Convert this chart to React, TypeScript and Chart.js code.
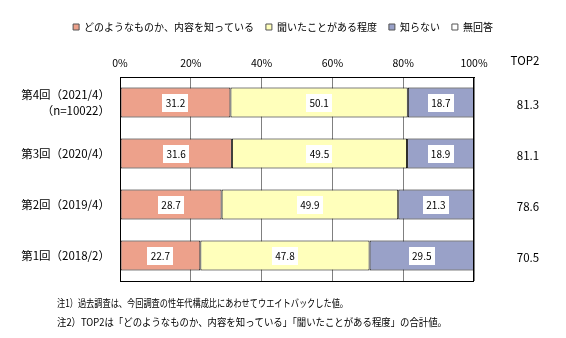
import React, { useEffect, useRef } from "react";
import { Chart, registerables } from "chart.js";

Chart.register(...registerables);

const categories: (string | string[])[] = [
  ["第4回（2021/4）", "（n=10022）"],
  "第3回（2020/4）",
  "第2回（2019/4）",
  "第1回（2018/2）",
];
const seriesNames = ["どのようなものか、内容を知っている", "聞いたことがある程度", "知らない", "無回答"];
const knowContent = [31.2, 31.6, 28.7, 22.7];
const heardOf = [50.1, 49.5, 49.9, 47.8];
const dontKnow = [18.7, 18.9, 21.3, 29.5];
const noAnswer = [0, 0, 0.1, 0];
const top2 = ["81.3", "81.1", "78.6", "70.5"];
const xTicks = [0, 20, 40, 60, 80, 100];
const notes = [
  "注1）過去調査は、今回調査の性年代構成比にあわせてウエイトバックした値。",
  "注2）TOP2は「どのようなものか、内容を知っている」「聞いたことがある程度」の合計値。",
];

const FONT = "'Noto Sans CJK JP', 'Noto Sans', sans-serif";
const COLORS = ["#EDA18B", "#FFFFBB", "#99A1C8", "#FFFFFF"];

const overlayPlugin = {
  id: "overlay",
  afterDatasetsDraw(chart: any) {
    const { ctx, chartArea } = chart;
    ctx.save();
    // frame
    ctx.strokeStyle = "#000";
    ctx.lineWidth = 1;
    ctx.strokeRect(
      Math.round(chartArea.left) + 0.5,
      Math.round(chartArea.top) + 0.5,
      Math.round(chartArea.right - chartArea.left) - 1,
      Math.round(chartArea.bottom - chartArea.top)
    );
    // value labels
    ctx.font = `10px ${FONT}`;
    ctx.textAlign = "center";
    ctx.textBaseline = "middle";
    for (let d = 0; d < 3; d++) {
      const meta = chart.getDatasetMeta(d);
      const data = chart.data.datasets[d].data as number[];
      meta.data.forEach((bar: any, i: number) => {
        const cx = (bar.x + bar.base) / 2;
        const cy = bar.y;
        ctx.fillStyle = "#fff";
        ctx.fillRect(Math.round(cx - 13), Math.round(cy - 9), 26, 18);
        ctx.fillStyle = "#000";
        ctx.fillText(data[i].toFixed(1), cx, cy + 0.5);
      });
    }
    // TOP2 column
    const yScale = chart.scales.y;
    ctx.font = `11.5px ${FONT}`;
    ctx.fillStyle = "#000";
    ctx.fillText("TOP2", 525, 61);
    top2.forEach((v, i) => {
      ctx.fillText(v, 528, yScale.getPixelForValue(i) + 2);
    });
    // notes
    ctx.font = `10.5px ${FONT}`;
    ctx.textAlign = "left";
    ctx.fillText(notes[0], 57, 303, 291);
    ctx.fillText(notes[1], 57, 322, 390);
    ctx.restore();
  },
};

export default function App() {
  const ref = useRef<HTMLCanvasElement | null>(null);
  useEffect(() => {
    if (!ref.current) return;
    const series = [knowContent, heardOf, dontKnow, noAnswer];
    const chart = new Chart(ref.current, {
      type: "bar",
      data: {
        labels: categories,
        datasets: series.map((s, i) => ({
          label: seriesNames[i],
          data: s,
          backgroundColor: COLORS[i],
          borderColor: "#000",
          borderWidth: i === 3 ? 0 : 1,
          borderSkipped: false,
          barPercentage: 1,
          categoryPercentage: 30 / 51,
        })),
      },
      options: {
        indexAxis: "y",
        responsive: false,
        animation: false,
        layout: { padding: { top: 10, right: 0, bottom: 57, left: 0 } },
        plugins: {
          legend: {
            position: "top",
            labels: {
              boxWidth: 6,
              boxHeight: 6,
              padding: 12,
              color: "#000",
              font: { family: FONT, size: 10 },
              generateLabels: (c: any) =>
                c.data.datasets.map((ds: any, i: number) => ({
                  text: ds.label,
                  fillStyle: COLORS[i],
                  strokeStyle: "#555",
                  lineWidth: 1,
                  datasetIndex: i,
                  hidden: false,
                })),
            },
          },
          tooltip: { enabled: false },
        },
        scales: {
          x: {
            position: "top",
            stacked: true,
            min: 0,
            max: 100,
            afterBuildTicks: (s: any) => {
              s.ticks = xTicks.map((v) => ({ value: v }));
            },
            afterFit: (s: any) => {
              s.height = 35;
            },
            ticks: {
              padding: 8,
              color: "#000",
              font: { family: FONT, size: 10.5 },
              callback: (v: any) => `${v}%`,
            },
            grid: { color: "#808080", drawTicks: false, lineWidth: 1 },
            border: { display: true, color: "#000" },
          },
          y: {
            stacked: true,
            afterFit: (s: any) => {
              s.width = 120;
            },
            ticks: {
              padding: 10,
              color: "#000",
              font: { family: FONT, size: 11.5, lineHeight: 1.45 },
            },
            grid: { display: false, drawTicks: false },
            border: { display: true, color: "#000" },
          },
          yRight: {
            type: "category",
            position: "right",
            afterFit: (s: any) => {
              s.width = 92;
            },
            ticks: { display: false },
            grid: { display: false, drawTicks: false },
            border: { display: false },
          },
        },
      },
      plugins: [overlayPlugin],
    });
    return () => chart.destroy();
  }, []);
  return (
    <div style={{ position: "absolute", left: 0, top: 0, width: 566, height: 338, background: "#fff" }}>
      <canvas ref={ref} width={566} height={338} style={{ width: 566, height: 338, display: "block" }} />
    </div>
  );
}
